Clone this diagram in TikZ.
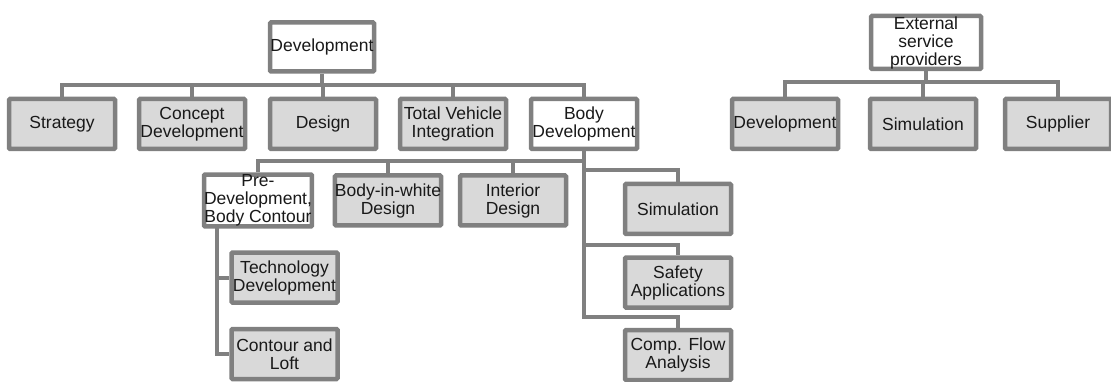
\documentclass[tikz,border=0pt]{standalone}
\usepackage{fontspec}
\setmainfont{Liberation Sans}
\usetikzlibrary{calc}
\definecolor{linegray}{RGB}{128,128,128}
\definecolor{boxgray}{RGB}{217,217,217}
\definecolor{textgray}{RGB}{25,25,25}

\begin{document}
\begin{tikzpicture}[x=1pt, y=-1pt,
  box/.style={draw=linegray, line width=4.5pt, fill=boxgray, rounded corners=1pt, minimum width=106pt, minimum height=50pt, inner sep=0pt, align=center, text=textgray, font=\fontsize{17.5}{18}\selectfont},
  link/.style={draw=linegray, line width=4pt}]
\useasboundingbox (0,0) rectangle (1111,382);
\coordinate (BusA) at (0,85);
\coordinate (BusB) at (0,82);
\coordinate (BusC) at (0,161);
\coordinate (Sim) at (0,170);
\coordinate (Safe) at (0,245);
\coordinate (Flow) at (0,317);
\coordinate (Leg) at (217,228);
\node at (322,47) [name=dev, box, fill=white, minimum width=104pt, minimum height=49pt] {Development};
\node at (62,124) [name=strat, box] {Strategy};
\node at (192,124) [name=concept, box] {Concept\\Development};
\node at (323,124) [name=design, box] {Design};
\node at (453,124) [name=tvi, box] {Total Vehicle\\Integration};
\node at (584,124) [name=body, box, fill=white] {Body\\Development};
\node at (926,42.5) [name=ext, box, fill=white, minimum width=110pt, minimum height=53pt] {External\\service\\providers};
\node at (785,124) [name=edev, box] {Development};
\node at (923,124) [name=esim, box] {Simulation};
\node at (1058,124) [name=esup, box] {Supplier};
\node at (258,200.5) [name=pre, box, fill=white] {Pre-\\Development,\\Body Contour};
\node at (388,200.5) [name=biw, box] {Body-in-white\\Design};
\node at (513,200.5) [name=interior, box] {Interior\\Design};
\node at (678,209) [name=sim, box] {Simulation};
\node at (678,282.5) [name=safety, box] {Safety\\Applications};
\node at (678,355) [name=flow, box] {Comp. Flow\\Analysis};
\node at (284.5,277.5) [name=tech, box] {Technology\\Development};
\node at (284.5,354) [name=loft, box] {Contour and\\Loft};
% links from box to box along the bus lines
\draw [link] (dev.south) -- (dev.south |- BusA);
\draw [link] (strat.north) |- (body.north |- BusA) -- (body.north);
\draw [link] (concept.north) -- (concept.north |- BusA);
\draw [link] (design.north) -- (design.north |- BusA);
\draw [link] (tvi.north) -- (tvi.north |- BusA);
\draw [link] (ext.south) -- (ext.south |- BusB);
\draw [link] (edev.north) |- (esup.north |- BusB) -- (esup.north);
\draw [link] (esim.north) -- (esim.north |- BusB);
\draw [link] (body.south) -- (body.south |- Flow) -| (flow.north);
\draw [link] (pre.north) |- (body.south |- BusC);
\draw [link] (biw.north) -- (biw.north |- BusC);
\draw [link] (interior.north) -- (interior.north |- BusC);
\draw [link] (body.south |- Sim) -| (sim.north);
\draw [link] (body.south |- Safe) -| (safety.north);
\draw [link] (Leg) |- (loft.west);
\draw [link] (Leg |- tech.west) -- (tech.west);
\end{tikzpicture}
\end{document}
